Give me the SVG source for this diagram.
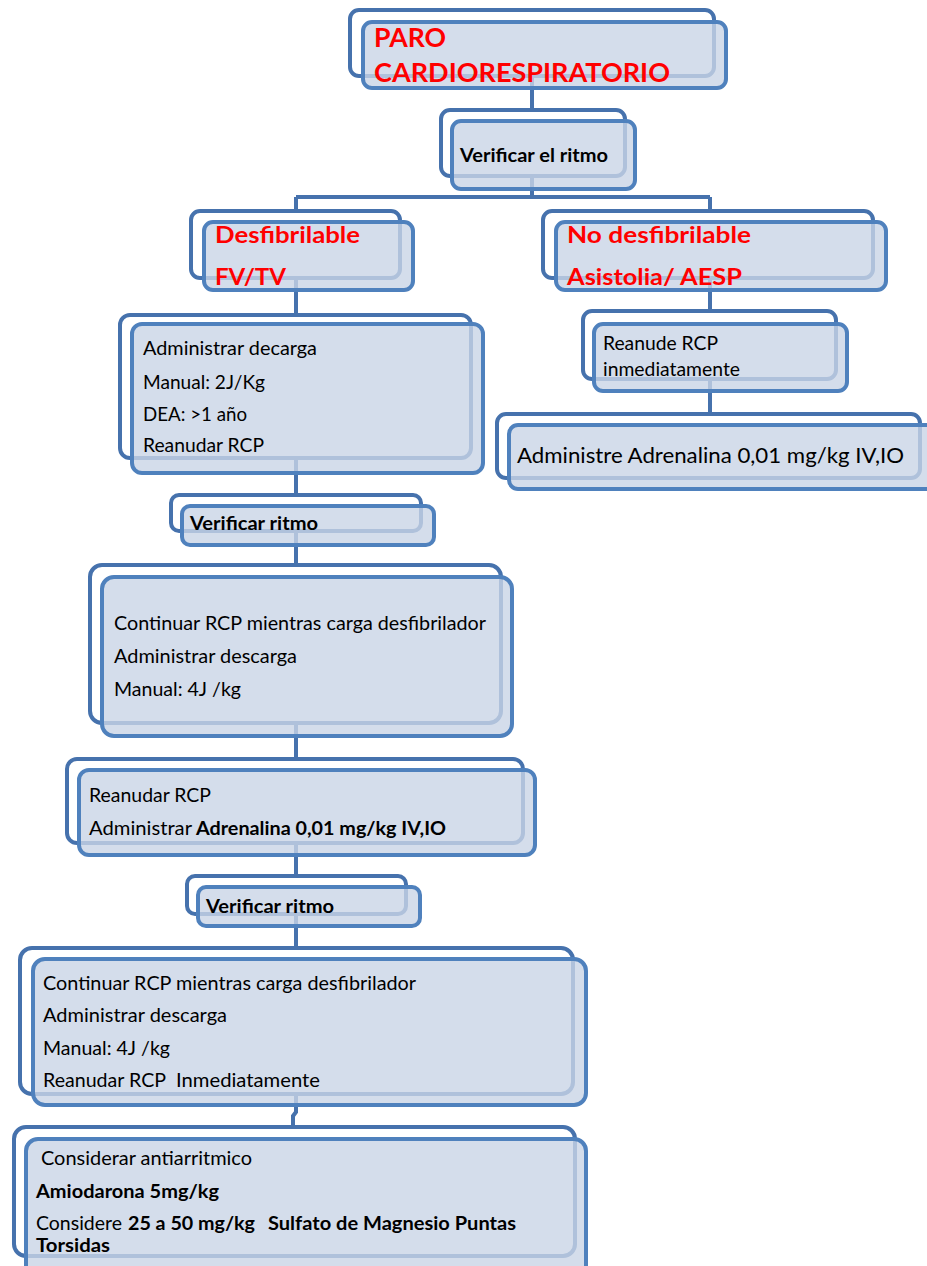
<svg xmlns="http://www.w3.org/2000/svg" width="927" height="1266" viewBox="0 0 927 1266">
  <style>
    .bk { fill: #ffffff; stroke: #4672ad; stroke-width: 4; }
    .fr { fill: #c9d4e6; fill-opacity: 0.8; stroke: #4f81bd; stroke-width: 4; }
    .ln { fill: none; stroke: #4672ad; stroke-width: 4; }
    text { font-family: Lato, "Liberation Sans", sans-serif; fill: #000000; }
    .t { font-size: 19px; }
    .b { font-size: 19px; font-weight: bold; }
    .big { font-size: 21.5px; }
    .red { font-size: 23.5px; font-weight: bold; fill: #ff0000; }
    .title { font-size: 26px; font-weight: bold; fill: #ff0000; }
  </style>

  <!-- connectors (drawn underneath the boxes) -->
  <g id="connectors">
    <path class="ln" d="M532 50 V140"/>
    <path class="ln" d="M532 150 V197 M296 197 H710 M296 197 V250 M710 197 V250"/>
    <path class="ln" d="M296 250 V390"/>
    <path class="ln" d="M710 250 V350"/>
    <path class="ln" d="M710 350 V450"/>
    <path class="ln" d="M296 390 V520"/>
    <path class="ln" d="M296 520 V650"/>
    <path class="ln" d="M296 650 V800"/>
    <path class="ln" d="M296 800 V900"/>
    <path class="ln" d="M296 900 V1020"/>
    <path class="ln" d="M296 1020 V1112 L293 1116 V1190"/>
  </g>

  <g id="paro">
    <rect class="bk" x="350" y="10" width="364" height="66" rx="9"/>
    <rect class="fr" x="363" y="22" width="363" height="66" rx="9"/>
    <text class="title" x="374" y="47" textLength="72" lengthAdjust="spacingAndGlyphs">PARO</text>
    <text class="title" x="374" y="82" textLength="296" lengthAdjust="spacingAndGlyphs">CARDIORESPIRATORIO</text>
  </g>

  <g id="verificar-el-ritmo">
    <rect class="bk" x="441" y="110" width="184" height="66" rx="9"/>
    <rect class="fr" x="452" y="121" width="183" height="68" rx="9"/>
    <text class="b" x="460" y="162" textLength="148" lengthAdjust="spacingAndGlyphs">Verificar el ritmo</text>
  </g>

  <g id="desfibrilable">
    <rect class="bk" x="191" y="211" width="209" height="67" rx="9"/>
    <rect class="fr" x="204" y="222" width="209" height="68" rx="9"/>
    <text class="red" x="215" y="243" textLength="145" lengthAdjust="spacingAndGlyphs">Desfibrilable</text>
    <text class="red" x="215" y="285" textLength="71" lengthAdjust="spacingAndGlyphs">FV/TV</text>
  </g>

  <g id="no-desfibrilable">
    <rect class="bk" x="543" y="211" width="330" height="67" rx="9"/>
    <rect class="fr" x="556" y="222" width="330" height="68" rx="9"/>
    <text class="red" x="567" y="243" textLength="184" lengthAdjust="spacingAndGlyphs">No desfibrilable</text>
    <text class="red" x="567" y="285" textLength="175" lengthAdjust="spacingAndGlyphs">Asistolia/ AESP</text>
  </g>

  <g id="administrar-decarga">
    <rect class="bk" x="120" y="315" width="351" height="143" rx="10"/>
    <rect class="fr" x="132" y="324" width="351" height="149" rx="10"/>
    <text class="t" x="143" y="355" textLength="174" lengthAdjust="spacingAndGlyphs">Administrar decarga</text>
    <text class="t" x="143" y="389" textLength="122" lengthAdjust="spacingAndGlyphs">Manual: 2J/Kg</text>
    <text class="t" x="143" y="421" textLength="104" lengthAdjust="spacingAndGlyphs">DEA: &gt;1 año</text>
    <text class="t" x="143" y="452" textLength="121" lengthAdjust="spacingAndGlyphs">Reanudar RCP</text>
  </g>

  <g id="reanude-rcp">
    <rect class="bk" x="583" y="311" width="253" height="68" rx="9"/>
    <rect class="fr" x="594" y="324" width="253" height="67" rx="9"/>
    <text class="t" x="603" y="350" textLength="115" lengthAdjust="spacingAndGlyphs">Reanude RCP</text>
    <text class="t" x="603" y="376" textLength="137" lengthAdjust="spacingAndGlyphs">inmediatamente</text>
  </g>

  <g id="administre-adrenalina">
    <rect class="bk" x="497" y="414" width="423" height="64" rx="9"/>
    <rect class="fr" x="509" y="425" width="430" height="64" rx="9"/>
    <text class="big" x="517" y="463" textLength="387" lengthAdjust="spacingAndGlyphs">Administre Adrenalina 0,01 mg/kg IV,IO</text>
  </g>

  <g id="verificar-ritmo-1">
    <rect class="bk" x="171" y="495" width="250" height="36" rx="8"/>
    <rect class="fr" x="182" y="506" width="252" height="39" rx="8"/>
    <text class="b" x="190" y="530" textLength="128" lengthAdjust="spacingAndGlyphs">Verificar ritmo</text>
  </g>

  <g id="continuar-rcp-1">
    <rect class="bk" x="90" y="565" width="411" height="158" rx="12"/>
    <rect class="fr" x="102" y="577" width="410" height="159" rx="12"/>
    <text class="t" x="114" y="630" textLength="372" lengthAdjust="spacingAndGlyphs">Continuar RCP mientras carga desfibrilador</text>
    <text class="t" x="114" y="663" textLength="183" lengthAdjust="spacingAndGlyphs">Administrar descarga</text>
    <text class="t" x="114" y="696" textLength="127" lengthAdjust="spacingAndGlyphs">Manual: 4J /kg</text>
  </g>

  <g id="reanudar-adrenalina">
    <rect class="bk" x="67" y="759" width="456" height="84" rx="10"/>
    <rect class="fr" x="79" y="770" width="456" height="85" rx="10"/>
    <text class="t" x="89" y="802" textLength="122" lengthAdjust="spacingAndGlyphs">Reanudar RCP</text>
    <text class="t" x="89" y="835" textLength="103" lengthAdjust="spacingAndGlyphs">Administrar</text>
    <text class="b" x="196" y="835" textLength="250" lengthAdjust="spacingAndGlyphs">Adrenalina 0,01 mg/kg IV,IO</text>
  </g>

  <g id="verificar-ritmo-2">
    <rect class="bk" x="187" y="876" width="219" height="38" rx="8"/>
    <rect class="fr" x="198" y="887" width="222" height="39" rx="8"/>
    <text class="b" x="206" y="913" textLength="128" lengthAdjust="spacingAndGlyphs">Verificar ritmo</text>
  </g>

  <g id="continuar-rcp-2">
    <rect class="bk" x="20" y="948" width="553" height="146" rx="12"/>
    <rect class="fr" x="33" y="959" width="553" height="146" rx="12"/>
    <text class="t" x="43" y="990" textLength="373" lengthAdjust="spacingAndGlyphs">Continuar RCP mientras carga desfibrilador</text>
    <text class="t" x="43" y="1022" textLength="184" lengthAdjust="spacingAndGlyphs">Administrar descarga</text>
    <text class="t" x="43" y="1055" textLength="127" lengthAdjust="spacingAndGlyphs">Manual: 4J /kg</text>
    <text class="t" x="43" y="1087" textLength="123" lengthAdjust="spacingAndGlyphs">Reanudar RCP</text>
    <text class="t" x="176" y="1087" textLength="144" lengthAdjust="spacingAndGlyphs">Inmediatamente</text>
  </g>

  <g id="considerar-antiarritmico">
    <rect class="bk" x="14" y="1127" width="561" height="129" rx="12"/>
    <rect class="fr" x="26" y="1139" width="560" height="140" rx="12"/>
    <text class="t" x="41" y="1165" textLength="211" lengthAdjust="spacingAndGlyphs">Considerar antiarritmico</text>
    <text class="b" x="36" y="1198" textLength="183" lengthAdjust="spacingAndGlyphs">Amiodarona 5mg/kg</text>
    <text class="t" x="36" y="1230" textLength="86" lengthAdjust="spacingAndGlyphs">Considere</text>
    <text class="b" x="128" y="1230" textLength="127" lengthAdjust="spacingAndGlyphs">25 a 50 mg/kg</text>
    <text class="b" x="268" y="1230" textLength="248" lengthAdjust="spacingAndGlyphs">Sulfato de Magnesio Puntas</text>
    <text class="b" x="36" y="1252" textLength="74" lengthAdjust="spacingAndGlyphs">Torsidas</text>
  </g>
</svg>
